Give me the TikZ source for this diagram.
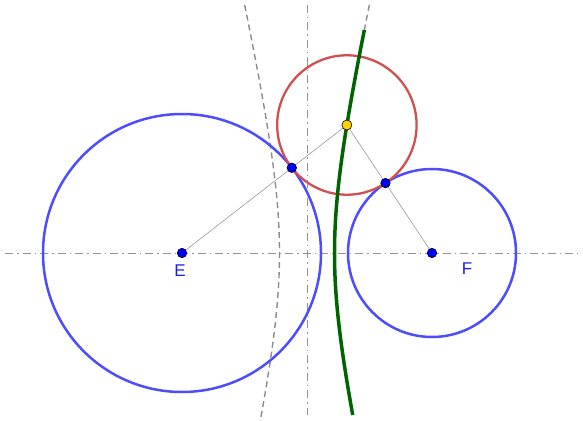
\documentclass[tikz,border=0pt]{standalone}
\usepackage{fontspec}
\setsansfont{Liberation Sans}
\usetikzlibrary{calc}
\begin{document}
\begin{tikzpicture}[x=1pt,y=-1pt,
  axisline/.style={gray!85,line width=1pt,dash pattern=on 8pt off 4pt on 1.5pt off 4pt},
  hypdash/.style={gray!90,line width=1.4pt,dash pattern=on 6pt off 4pt},
  bigcirc/.style={draw=circblue,line width=2.5pt},
  redcirc/.style={draw=circred,line width=2.3pt},
  thinline/.style={gray!80,line width=0.6pt},
  bluept/.style={circle,fill=ptblue,draw=black,line width=0.6pt,inner sep=0pt,minimum size=9.5pt},
  yellowpt/.style={circle,fill=ptyellow,draw=black,line width=0.6pt,inner sep=0pt,minimum size=10pt},
  lbl/.style={text=lblblue,font=\sffamily\fontsize{17}{17}\selectfont}]
\definecolor{circblue}{RGB}{77,77,255}
\definecolor{lblblue}{RGB}{30,30,230}
\definecolor{circred}{RGB}{208,80,80}
\definecolor{hypgreen}{RGB}{0,100,0}
\definecolor{ptblue}{RGB}{0,0,255}
\definecolor{ptyellow}{RGB}{255,210,0}
\useasboundingbox (0,0) rectangle (583,420);
% axes
\coordinate (hl) at (5,253);
\coordinate (hr) at (578,253);
\coordinate (vt) at (307,5);
\coordinate (vb) at (307,415);
\draw[axisline] (hl) -- (hr);
\draw[axisline] (vt) -- (vb);
% centres
\coordinate (E) at (182,253);
\coordinate (F) at (432,253);
\coordinate (P) at ({307+27.5*sqrt(1+(128/121.94)^2)},125);
% dashed hyperbola, both branches
\draw[hypdash] plot[domain=-1.459:1.459,samples=80,smooth,variable=\t] ({307-27.5*cosh(\t)},{253+121.94*sinh(\t)});
\draw[hypdash] plot[domain=-1.459:1.096,samples=80,smooth,variable=\t] ({307+27.5*cosh(\t)},{253+121.94*sinh(\t)});
% circles
\draw[bigcirc] (E) circle (139);
\draw[bigcirc] (F) circle (84);
% red circle radius = |EP| - 139
\draw[redcirc] let \p1=($(P)-(E)$), \n1={veclen(\x1,\y1)-139pt} in (P) circle (\n1);
% green branch
\draw[hypgreen,line width=3.5pt] plot[domain=-1.3645:1.096,samples=80,smooth,variable=\t] ({307+27.5*cosh(\t)},{253+121.94*sinh(\t)});
% thin lines
\draw[thinline] (E) -- (P) -- (F);
% tangent points
\coordinate (T1) at ($(E)!139pt!(P)$);
\coordinate (T2) at ($(F)!84pt!(P)$);
\node[bluept] (t1) at (T1) {};
\node[bluept] (t2) at (T2) {};
\node[bluept] (e) at (E) {};
\node[bluept] (f) at (F) {};
\node[yellowpt] (p) at (P) {};
\node[lbl] (le) at (180,271) {E};
\node[lbl] (lf) at (467,269) {F};
\end{tikzpicture}
\end{document}
